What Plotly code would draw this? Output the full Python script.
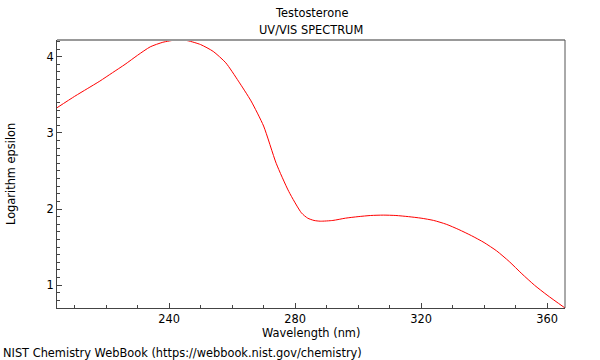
import plotly.graph_objects as go

wavelength = [204.4, 210, 214, 218, 222, 226, 230, 234, 238, 242, 244, 246, 250, 254, 258,
              262, 266, 270, 274, 278, 282, 284, 286, 288, 292, 296, 300, 304, 308, 312,
              316, 320, 324, 328, 332, 336, 340, 344, 348, 352, 356, 360, 365.7]
log_eps = [3.33, 3.48, 3.58, 3.68, 3.79, 3.90, 4.02, 4.13, 4.19, 4.22, 4.22, 4.21, 4.16, 4.07, 3.92,
           3.68, 3.42, 3.09, 2.60, 2.23, 1.95, 1.88, 1.85, 1.84, 1.85, 1.88, 1.90, 1.915, 1.92, 1.915,
           1.90, 1.88, 1.85, 1.80, 1.73, 1.65, 1.56, 1.45, 1.31, 1.15, 1.00, 0.87, 0.70]

x_ticks = [240, 280, 320, 360]
y_ticks = [1, 2, 3, 4]

font = dict(family="DejaVu Sans", size=11.4, color="#000")

fig = go.Figure()
fig.add_trace(go.Scatter(x=wavelength, y=log_eps, mode="lines",
                         line=dict(color="#ff0000", width=1, shape="spline", smoothing=0.6),
                         hoverinfo="skip"))

fig.update_layout(
    width=600, height=360,
    margin=dict(l=57, r=35, t=40, b=52, autoexpand=False),
    paper_bgcolor="white", plot_bgcolor="white",
    font=font, showlegend=False,
    xaxis=dict(range=[204.4, 365.7], tickvals=x_ticks, ticks="inside", ticklen=5,
               tickcolor="#444", showline=True, linecolor="#444", linewidth=1,
               showgrid=False, zeroline=False, automargin=False,
               minor=dict(dtick=10, tick0=200, ticks="inside", ticklen=3, tickcolor="#444")),
    yaxis=dict(range=[0.70, 4.22], tickvals=y_ticks, ticks="inside", ticklen=5,
               tickcolor="#444", showline=True, linecolor="#444", linewidth=1,
               showgrid=False, zeroline=False, automargin=False,
               minor=dict(dtick=0.1, tick0=0, ticks="inside", ticklen=3, tickcolor="#444")),
    shapes=[
        dict(type="line", xref="paper", yref="paper", x0=0, x1=1, y0=1, y1=1,
             line=dict(color="#999", width=2)),
        dict(type="line", xref="paper", yref="paper", x0=1, x1=1, y0=0, y1=1,
             line=dict(color="#555", width=1)),
    ],
    annotations=[
        dict(text="Testosterone", xref="paper", yref="paper", x=0.5, y=1, yshift=27,
             showarrow=False, font=font, xanchor="center", yanchor="middle"),
        dict(text="UV/VIS SPECTRUM", xref="paper", yref="paper", x=0.5, y=1, yshift=10,
             showarrow=False, font=font, xanchor="center", yanchor="middle"),
        dict(text="Wavelength (nm)", xref="paper", yref="paper", x=0.5, y=0, yshift=-25,
             showarrow=False, font=font, xanchor="center", yanchor="middle"),
        dict(text="Logarithm epsilon", xref="paper", yref="paper", x=0, xshift=-46, y=0.5,
             textangle=-90, showarrow=False, font=font, xanchor="center", yanchor="middle"),
        dict(text="NIST Chemistry WebBook (https://webbook.nist.gov/chemistry)",
             xref="paper", yref="paper", x=0, xshift=-56, y=0, yshift=-45,
             showarrow=False, font=font, xanchor="left", yanchor="middle"),
    ],
)

fig.write_html("out.html", config={"displayModeBar": False},
               post_script="document.body.style.margin='0';")
